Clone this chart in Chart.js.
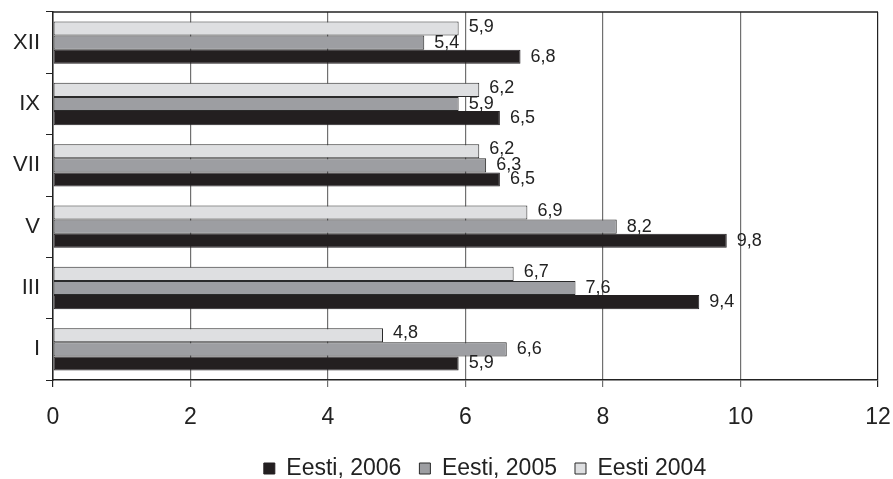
<!DOCTYPE html>
<html>
<head>
<meta charset="utf-8">
<script src="https://cdn.jsdelivr.net/npm/chart.js@4/dist/chart.umd.min.js"></script>
<style>
  html, body { margin: 0; padding: 0; background: #fff; }
  #wrap { width: 893px; height: 479px; }
</style>
</head>
<body>
<div id="wrap"><canvas id="monthChart"></canvas></div>
<script>
const categories = ['XII', 'IX', 'VII', 'V', 'III', 'I'];
const eesti2006 = [6.8, 6.5, 6.5, 9.8, 9.4, 5.9];
const eesti2005 = [5.4, 5.9, 6.3, 8.2, 7.6, 6.6];
const eesti2004 = [5.9, 6.2, 6.2, 6.9, 6.7, 4.8];
const xTicks = [0, 2, 4, 6, 8, 10, 12];

const FONT = "'Liberation Sans', Arial, sans-serif";
const INK = '#222';

// value labels to the right of every bar, decimal comma
const barLabels = {
  id: 'barLabels',
  afterDatasetsDraw(chart) {
    const ctx = chart.ctx;
    ctx.save();
    ctx.font = '18px ' + FONT;
    ctx.fillStyle = INK;
    ctx.textAlign = 'left';
    ctx.textBaseline = 'middle';
    chart.data.datasets.forEach((ds, i) => {
      chart.getDatasetMeta(i).data.forEach((bar, j) => {
        ctx.fillText(String(ds.data[j]).replace('.', ','), bar.x + 10, bar.y - (i === 0 ? 2 : 0));
      });
    });
    ctx.restore();
  }
};

// top frame line of the plot area
const frameTop = {
  id: 'frameTop',
  afterDraw(chart) {
    const { ctx, chartArea: a } = chart;
    ctx.save();
    ctx.strokeStyle = INK;
    ctx.lineWidth = 1.5;
    ctx.beginPath();
    ctx.moveTo(a.left, a.top);
    ctx.lineTo(a.right, a.top);
    ctx.stroke();
    ctx.restore();
  }
};

// nudge the legend to where the original sits
const legendShift = {
  id: 'legendShift',
  afterLayout(chart) {
    const lg = chart.legend;
    const dx = 46, dy = 10;
    lg.left += dx; lg.right += dx;
    lg.top += dy; lg.bottom += dy;
  }
};

new Chart(document.getElementById('monthChart'), {
  type: 'bar',
  data: {
    labels: categories,
    datasets: [
      { label: 'Eesti 2004', data: eesti2004, backgroundColor: '#dedfe1', borderColor: '#2a2a2a', borderWidth: 1, borderSkipped: false },
      { label: 'Eesti, 2005', data: eesti2005, backgroundColor: '#9d9ea2', borderColor: '#2a2a2a', borderWidth: 1, borderSkipped: false },
      { label: 'Eesti, 2006', data: eesti2006, backgroundColor: '#231f20', borderColor: '#231f20', borderWidth: 1, borderSkipped: false }
    ]
  },
  options: {
    indexAxis: 'y',
    responsive: true, maintainAspectRatio: false,
    animation: false,
    layout: { padding: { top: 12, right: 15, left: 0, bottom: -1 } },
    datasets: { bar: { categoryPercentage: 0.69, barPercentage: 1 } },
    plugins: {
      legend: {
        position: 'bottom', reverse: true,
        labels: { boxWidth: 11, boxHeight: 11, padding: 18, color: INK, font: { family: FONT, size: 23 } }
      },
      tooltip: { enabled: false }
    },
    scales: {
      x: {
        min: xTicks[0], max: xTicks[xTicks.length - 1],
        afterFit: s => { s.height = 49; s.paddingLeft = 0; s.paddingRight = 0; },
        ticks: { stepSize: xTicks[1] - xTicks[0], color: INK, padding: 17, font: { family: FONT, size: 23 } },
        grid: {
          color: c => c.index === xTicks.length - 1 ? INK : '#707070',
          tickColor: c => c.index === 0 || c.index === xTicks.length - 1 ? INK : '#707070',
          tickLength: 7, lineWidth: 1.2
        },
        border: { color: INK, width: 1.5 }
      },
      y: {
        afterFit: s => { s.width = 53; s.paddingTop = 0; s.paddingBottom = 0; },
        ticks: { color: INK, padding: 6, font: { family: FONT, size: 22 } },
        grid: { drawOnChartArea: false, tickLength: 7, color: INK, offset: true },
        border: { color: INK, width: 1.5 }
      }
    }
  },
  plugins: [barLabels, frameTop, legendShift]
});
</script>
</body>
</html>
